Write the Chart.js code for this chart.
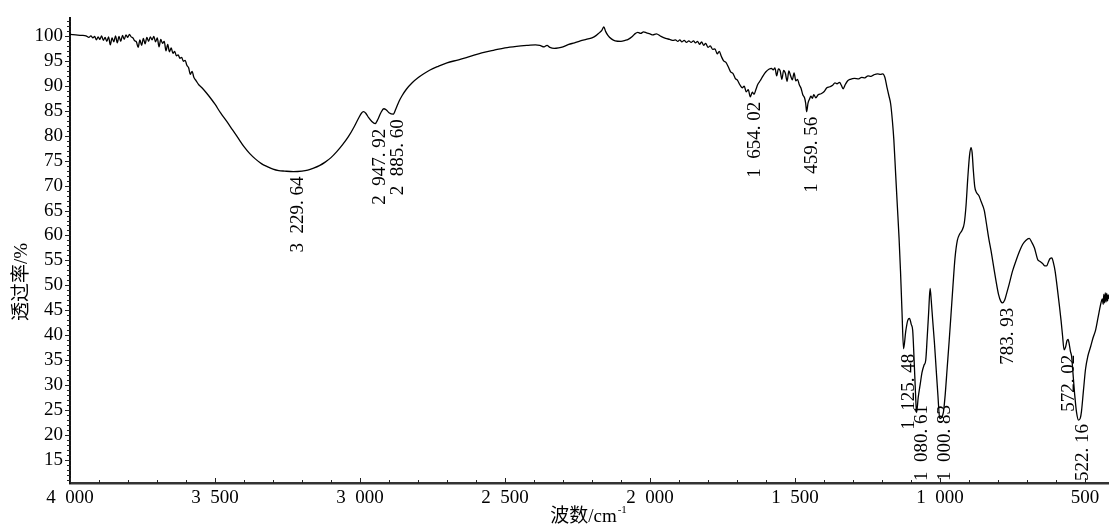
<!DOCTYPE html>
<html>
<head>
<meta charset="utf-8">
<title>IR spectrum</title>
<script src="https://cdn.jsdelivr.net/npm/chart.js@4.4.1/dist/chart.umd.min.js"></script>
<style>
  html, body { margin: 0; padding: 0; background: #fff; }
  #wrap { width: 1109px; height: 528px; position: relative; }
</style>
</head>
<body>
<div id="wrap"><canvas id="ir-spectrum"></canvas></div>
<script>
// wavenumber (cm-1) / transmittance (%)
const wavenumber = [
  4000, 3980, 3960, 3945, 3935, 3928, 3921, 3915, 3909, 3903,
  3897, 3891, 3885, 3879, 3873, 3867, 3861, 3855, 3849, 3843,
  3837, 3831, 3825, 3819, 3813, 3807, 3801, 3795, 3789, 3783,
  3777, 3771, 3765, 3759, 3753, 3747, 3741, 3735, 3729, 3723,
  3717, 3711, 3705, 3699, 3693, 3687, 3681, 3675, 3669, 3663,
  3657, 3651, 3645, 3639, 3633, 3627, 3621, 3615, 3609, 3603,
  3597, 3591, 3585, 3579, 3573, 3565, 3556, 3545, 3530, 3515,
  3500, 3480, 3460, 3440, 3420, 3400, 3380, 3360, 3340, 3320,
  3300, 3280, 3260, 3229.64, 3200, 3180, 3160, 3140, 3120, 3100,
  3080, 3060, 3040, 3020, 3005, 2995, 2988, 2980, 2970, 2960,
  2947.92, 2938, 2928, 2918, 2910, 2900, 2885.6, 2876, 2866, 2855,
  2840, 2820, 2800, 2780, 2760, 2730, 2700, 2660, 2620, 2580,
  2540, 2500, 2460, 2420, 2395, 2380, 2365, 2355, 2345, 2330,
  2315, 2300, 2280, 2260, 2240, 2220, 2200, 2185, 2175, 2166,
  2159, 2153, 2145, 2133, 2120, 2100, 2085, 2075, 2062, 2052,
  2042, 2032, 2022, 2012, 2000, 1990, 1978, 1962, 1946, 1932,
  1920, 1912, 1904, 1897, 1890, 1882, 1874, 1866, 1858, 1850,
  1843, 1836, 1829, 1822, 1815, 1808, 1800, 1792, 1784, 1776,
  1768, 1761, 1754, 1746, 1738, 1730, 1722, 1714, 1706, 1698,
  1690, 1682, 1675, 1668, 1661, 1654.02, 1647, 1641, 1635, 1628,
  1620, 1610, 1600, 1590, 1581, 1575, 1569, 1563, 1557, 1551,
  1545, 1539, 1533, 1527, 1521, 1515, 1509, 1503, 1497, 1491,
  1485, 1479, 1473, 1467, 1463, 1459.56, 1455, 1450, 1445, 1440,
  1435, 1428, 1420, 1410, 1400, 1390, 1380, 1370, 1362, 1355,
  1346, 1340, 1334, 1326, 1318, 1309, 1295, 1280, 1270, 1259,
  1248, 1238, 1228, 1215, 1205, 1197, 1190, 1183, 1176, 1170,
  1164, 1159, 1153, 1147, 1141, 1136, 1131, 1125.48, 1118, 1111,
  1105, 1099, 1094, 1089, 1084, 1080.61, 1075, 1068, 1062, 1055,
  1049, 1044, 1039, 1034, 1030, 1025, 1019, 1013, 1007, 1000.83,
  995, 988, 982, 975, 968, 962, 955, 948, 940, 932,
  924, 916, 910, 904, 898, 893, 889, 885, 880, 874,
  866, 858, 847, 840, 832, 824, 815, 807, 798, 790,
  783.93, 777, 770, 761, 750, 738, 726, 715, 704, 692,
  684, 674, 668, 663, 655, 646, 638, 632, 626, 620,
  614, 609, 603, 596, 589, 582, 577, 572.02, 567, 562,
  558, 554, 550, 546, 540, 535, 529, 522.16, 516, 512,
  505, 498, 490, 480, 472, 463, 454, 445, 440, 437,
  435, 432, 430, 427, 425, 422, 420, 417
];
const transmittance = [
  100.3, 100.2, 100.1, 100.0, 99.7, 100.0, 99.6, 99.9, 99.2, 99.8,
  99.3, 100.0, 99.1, 99.7, 98.9, 99.8, 98.2, 99.6, 98.8, 100.0,
  98.6, 99.9, 98.9, 100.1, 99.3, 100.2, 99.7, 100.3, 99.8, 99.6,
  99.0, 98.8, 97.7, 99.2, 98.1, 99.5, 98.4, 99.7, 98.9, 99.8,
  99.2, 99.9, 98.8, 99.6, 97.8, 99.3, 98.5, 98.9, 97.0, 98.3,
  96.8, 97.6, 96.5, 96.9, 96.0, 96.2, 95.5, 95.7, 94.9, 95.1,
  94.1, 93.6, 92.3, 92.9, 91.7, 91.0, 90.2, 89.6, 88.6, 87.5,
  86.3, 84.5, 82.9, 81.2, 79.5, 77.8, 76.4, 75.3, 74.4, 73.8,
  73.3, 73.0, 72.9, 72.8, 72.9, 73.1, 73.5, 74.0, 74.7, 75.6,
  76.8, 78.2, 79.8, 81.8, 83.5, 84.5, 84.8, 84.5, 83.6, 82.9,
  82.4, 83.3, 84.6, 85.4, 85.2, 84.6, 84.3, 85.4, 86.8, 88.0,
  89.3, 90.6, 91.6, 92.4, 93.1, 93.9, 94.6, 95.2, 95.9, 96.6,
  97.1, 97.6, 97.9, 98.1, 98.2, 98.1, 97.8, 98.1, 97.7, 97.5,
  97.6, 97.8, 98.3, 98.6, 99.0, 99.3, 99.6, 100.1, 100.6, 101.1,
  101.8, 100.9, 100.1, 99.4, 99.0, 98.9, 99.1, 99.3, 99.8, 100.4,
  100.7, 100.5, 100.8, 100.6, 100.4, 100.2, 100.4, 99.9, 99.5, 99.3,
  99.1, 99.2, 98.9, 99.2, 98.8, 99.1, 98.7, 99.0, 98.7, 99.0,
  98.6, 98.9, 98.3, 98.8, 98.1, 98.5, 97.7, 98.0, 97.3, 97.4,
  96.4, 96.9, 95.9, 95.0, 94.7, 93.8, 92.8, 92.5, 91.5, 91.1,
  90.2, 89.6, 89.9, 88.8, 89.2, 87.8, 88.7, 88.3, 89.2, 90.3,
  91.0, 92.0, 92.8, 93.3, 93.5, 93.2, 93.6, 92.0, 93.4, 93.0,
  91.3, 93.1, 92.5, 90.9, 93.0, 92.0, 91.2, 92.6, 91.0, 91.3,
  90.2, 89.5, 88.2, 87.6, 86.5, 84.8, 86.5, 87.3, 87.9, 87.5,
  88.2, 87.6, 88.2, 88.4, 88.8, 89.6, 89.8, 90.1, 90.6, 90.4,
  90.7, 90.1, 89.4, 90.3, 91.0, 91.3, 91.5, 91.4, 91.7, 91.6,
  92.0, 91.9, 92.2, 92.4, 92.3, 92.4, 91.7, 89.8, 88.0, 86.4,
  83.0, 79.2, 72.6, 66.0, 59.5, 52.9, 45.0, 37.3, 40.8, 43.0,
  43.4, 42.2, 41.0, 35.0, 28.0, 24.5, 27.5, 30.2, 32.5, 34.0,
  35.0, 39.5, 44.5, 49.4, 47.0, 43.0, 38.5, 33.2, 28.0, 23.3,
  23.5, 24.6, 28.0, 33.5, 39.0, 44.0, 50.0, 55.5, 59.0, 60.3,
  61.0, 62.5, 66.0, 71.5, 76.0, 77.6, 76.6, 73.2, 69.8, 68.6,
  68.0, 66.8, 65.0, 62.5, 59.5, 57.0, 53.8, 51.0, 48.2, 46.8,
  46.5, 47.0, 48.4, 50.3, 52.8, 54.9, 56.8, 58.2, 59.0, 59.4,
  58.7, 57.5, 56.2, 55.2, 54.8, 54.4, 53.9, 53.9, 54.7, 55.4,
  55.5, 54.6, 52.9, 49.8, 46.4, 42.8, 39.8, 37.1, 37.6, 38.9,
  39.2, 38.2, 36.8, 35.8, 31.5, 27.9, 24.6, 23.0, 23.4, 24.7,
  29.0, 33.2, 35.8, 37.8, 39.5, 41.1, 43.8, 46.4, 47.3, 46.2,
  48.2, 46.5, 48.5, 46.7, 48.4, 46.9, 48.1, 47.3
];

// marked absorption bands
const peakWavenumbers = [3229.64, 2947.92, 2885.6, 1654.02, 1459.56, 1125.48,
                         1080.61, 1000.83, 783.93, 572.02, 522.16];

const xTicks = [4000, 3500, 3000, 2500, 2000, 1500, 1000, 500];
const yTicks = [15, 20, 25, 30, 35, 40, 45, 50, 55, 60, 65, 70, 75, 80, 85, 90, 95, 100];

const SERIF = '"Liberation Serif", "Noto Sans CJK SC", serif';

// 3229.64 -> "3 229. 64", like the instrument printout
function fmtThousands(n) {
  return n >= 1000 ? Math.floor(n / 1000) + '\u2002' + String(n % 1000).padStart(3, '0') : String(n);
}
function peakLabel(w) {
  const parts = w.toFixed(2).split('.');
  return fmtThousands(parseInt(parts[0], 10)) + '. ' + parts[1];
}

const axisTicks = {
  id: 'axisTicks',
  afterDraw(chart) {
    const { ctx, chartArea: a, scales: { x, y } } = chart;
    ctx.save();
    ctx.strokeStyle = '#222';
    ctx.lineWidth = 1;
    ctx.beginPath();
    for (let w = 4000; w >= 500; w -= 100) {
      const px = Math.round(x.getPixelForValue(w)) + 0.5;
      const len = w % 500 === 0 ? 5 : 3;
      ctx.moveTo(px, a.bottom);
      ctx.lineTo(px, a.bottom - len);
    }
    for (let v = 11; v <= 103; v++) {
      const py = Math.round(y.getPixelForValue(v)) + 0.5;
      const major = v % 5 === 0 && v >= 15 && v <= 100;
      ctx.moveTo(a.left - (major ? 5 : 3), py);
      ctx.lineTo(a.left + 1, py);
    }
    ctx.stroke();
    ctx.restore();
  }
};

const peakText = {
  id: 'peakText',
  afterDatasetsDraw(chart) {
    const { ctx, chartArea: a, scales: { x, y } } = chart;
    ctx.save();
    ctx.font = '19px ' + SERIF;
    ctx.fillStyle = '#000';
    ctx.textAlign = 'right';
    ctx.textBaseline = 'middle';
    peakWavenumbers.forEach((w) => {
      const text = peakLabel(w);
      const len = ctx.measureText(text).width;
      const idx = wavenumber.indexOf(w);
      const px = x.getPixelForValue(w) + 5;
      let top = y.getPixelForValue(transmittance[idx]) + 5;
      if (top + len > a.bottom - 2) top = a.bottom - 2 - len;
      ctx.save();
      ctx.translate(px, top);
      ctx.rotate(-Math.PI / 2);
      ctx.fillText(text, 0, 0);
      ctx.restore();
    });
    ctx.restore();
  }
};

const axisTitles = {
  id: 'axisTitles',
  afterDraw(chart) {
    const ctx = chart.ctx;
    ctx.save();
    ctx.fillStyle = '#000';
    ctx.font = '19px ' + SERIF;
    ctx.textAlign = 'center';
    ctx.textBaseline = 'middle';
    ctx.translate(22, 282);
    ctx.rotate(-Math.PI / 2);
    ctx.fillText('透过率/%', 0, 0);
    ctx.restore();

    ctx.save();
    ctx.fillStyle = '#000';
    ctx.textAlign = 'left';
    ctx.textBaseline = 'alphabetic';
    const main = '波数/cm', sup = '-1';
    ctx.font = '19px ' + SERIF;
    const mw = ctx.measureText(main).width;
    ctx.font = '11px ' + SERIF;
    const sw = ctx.measureText(sup).width;
    const x0 = 588 - (mw + sw) / 2;
    ctx.font = '19px ' + SERIF;
    ctx.fillText(main, x0, 522);
    ctx.font = '11px ' + SERIF;
    ctx.fillText(sup, x0 + mw + 1, 513);
    ctx.restore();
  }
};

window.addEventListener('load', () => {
  const ctx = document.getElementById('ir-spectrum').getContext('2d');
  const points = wavenumber.map((w, i) => ({ x: w, y: transmittance[i] }));

  window.irChart = new Chart(ctx, {
    type: 'line',
    data: {
      datasets: [{
        data: points,
        borderColor: '#000',
        borderWidth: 1.3,
        pointRadius: 0,
        fill: false,
        cubicInterpolationMode: 'monotone'
      }]
    },
    options: {
      responsive: true,
      maintainAspectRatio: false,
      animation: false,
      devicePixelRatio: 1,
      layout: { padding: { top: 10, right: 0, bottom: 0, left: 0 } },
      plugins: {
        legend: { display: false },
        tooltip: { enabled: false }
      },
      scales: {
        x: {
          type: 'linear',
          reverse: true,
          min: 417,
          max: 4000,
          afterBuildTicks: (scale) => { scale.ticks = xTicks.map(v => ({ value: v })); },
          afterFit: (scale) => { scale.height = 45; },
          grid: { display: false, drawTicks: false },
          border: { display: true, color: '#333', width: 2.5 },
          ticks: {
            autoSkip: false,
            maxRotation: 0,
            padding: 4,
            color: '#000',
            font: { family: SERIF, size: 19 },
            callback: (v) => fmtThousands(v)
          }
        },
        y: {
          min: 10.4,
          max: 103.5,
          afterBuildTicks: (scale) => { scale.ticks = yTicks.map(v => ({ value: v })); },
          afterFit: (scale) => { scale.width = 70; },
          grid: { display: false, drawTicks: false },
          border: { display: true, color: '#111', width: 2 },
          ticks: {
            padding: 7,
            color: '#000',
            font: { family: SERIF, size: 19 },
            callback: (v) => String(v)
          }
        }
      }
    },
    plugins: [axisTicks, peakText, axisTitles]
  });
});
</script>
</body>
</html>
